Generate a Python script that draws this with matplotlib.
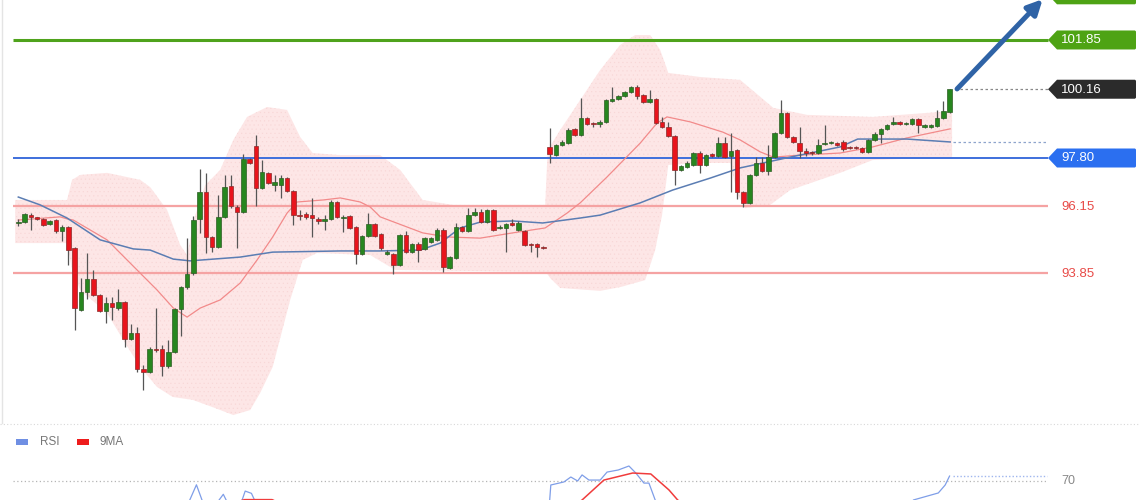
import numpy as np
import matplotlib
matplotlib.use("Agg")
import matplotlib.pyplot as plt
from matplotlib.patches import Polygon, Rectangle
from matplotlib.lines import Line2D
from matplotlib.transforms import IdentityTransform

plt.rcParams['font.family'] = ['Liberation Sans', 'DejaVu Sans']
plt.rcParams['hatch.linewidth'] = 0.3

# ---------------- data ----------------
opens = [95.58, 95.60, 95.84, 95.76, 95.71, 95.54, 95.67, 95.29, 95.43, 94.71,
         92.59, 93.20, 93.65, 93.10, 92.55, 92.82, 92.65, 92.86, 91.59, 91.79,
         90.56, 90.46, 91.25, 91.25, 90.66, 91.14, 92.62, 93.37, 93.85, 95.71,
         96.63, 95.09, 94.75, 95.78, 96.84, 96.12, 95.95, 97.77, 98.21, 96.77,
         97.29, 96.87, 96.87, 97.11, 96.67, 95.86, 95.88, 95.84, 95.71, 95.64,
         95.71, 96.29, 95.74, 95.81, 95.43, 94.51, 95.12, 95.54, 95.19, 94.51,
         94.51, 94.13, 95.16, 94.57, 94.85, 94.68, 94.92, 94.99, 95.33, 94.03,
         94.37, 95.43, 95.29, 95.84, 95.95, 95.60, 96.02, 95.40, 95.40, 95.57,
         95.33, 95.29, 94.85, 94.85, 94.75, 98.18, 97.90, 98.25, 98.31, 98.80,
         98.59, 99.17, 99.00, 98.97, 99.04, 99.76, 99.82, 99.93, 100.06, 100.24,
         99.96, 99.72, 99.82, 99.04, 98.86, 98.55, 97.39, 97.49, 97.56, 97.97,
         97.56, 97.94, 97.87, 98.31, 97.87, 98.07, 96.63, 96.26, 97.22, 97.63,
         97.35, 97.83, 98.66, 99.34, 98.52, 98.31, 98.04, 98.01, 97.97, 98.28,
         98.31, 98.31, 98.35, 98.18, 98.18, 98.14, 98.01, 98.42, 98.62, 98.80,
         98.97, 99.04, 98.97, 98.97, 99.14, 98.86, 98.86, 98.90, 99.17, 99.38]
highs = [95.70, 95.91, 95.91, 95.78, 95.74, 95.67, 95.70, 95.50, 95.46, 94.75,
         93.68, 94.54, 93.96, 93.13, 93.03, 93.03, 93.30, 92.90, 92.10, 92.00,
         90.70, 91.30, 92.65, 91.38, 91.55, 92.65, 93.40, 95.05, 95.80, 97.42,
         97.29, 95.12, 96.53, 97.22, 97.22, 96.20, 97.94, 97.80, 98.59, 97.73,
         97.32, 97.22, 97.22, 97.15, 96.70, 96.02, 95.95, 96.43, 95.78, 95.84,
         96.36, 96.32, 95.84, 95.84, 95.46, 95.16, 95.91, 95.57, 95.23, 94.64,
         94.54, 95.19, 95.29, 94.88, 94.92, 95.09, 95.09, 95.40, 95.40, 94.44,
         95.57, 95.46, 96.08, 96.08, 96.05, 96.05, 96.05, 95.50, 95.57, 95.71,
         95.64, 95.33, 94.88, 94.88, 94.78, 98.83, 98.28, 98.42, 98.83, 98.83,
         99.86, 99.21, 99.04, 99.10, 99.82, 100.24, 99.96, 100.10, 100.27, 100.31,
         99.99, 100.13, 99.86, 99.21, 99.04, 98.59, 97.56, 97.70, 98.01, 98.04,
         97.94, 97.97, 98.52, 98.52, 98.66, 98.11, 96.67, 97.25, 97.83, 97.83,
         98.25, 98.69, 99.79, 99.38, 98.55, 98.86, 98.14, 98.04, 98.45, 98.93,
         98.38, 98.35, 98.42, 98.21, 98.21, 98.18, 98.45, 98.69, 98.83, 98.97,
         99.21, 99.07, 99.04, 99.17, 99.17, 98.97, 98.97, 99.45, 99.76, 100.18]
lows = [95.48, 95.57, 95.33, 95.68, 95.47, 95.50, 95.23, 94.95, 94.13, 91.90,
        92.55, 92.96, 93.05, 92.50, 92.14, 92.24, 92.60, 91.31, 91.55, 90.46,
        89.84, 90.42, 91.15, 90.32, 90.60, 91.10, 91.69, 93.30, 93.80, 95.23,
        94.54, 94.57, 94.70, 95.75, 96.10, 94.71, 95.90, 97.58, 96.15, 96.72,
        96.90, 96.67, 96.43, 96.62, 95.50, 95.67, 95.72, 95.09, 95.54, 95.33,
        95.67, 95.74, 95.26, 95.36, 94.16, 94.47, 95.09, 95.09, 94.64, 94.47,
        93.82, 94.10, 94.54, 94.54, 94.23, 94.64, 94.88, 94.95, 93.89, 93.99,
        94.33, 95.26, 95.26, 95.81, 95.57, 95.57, 95.29, 95.36, 94.57, 95.46,
        95.29, 94.78, 94.57, 94.40, 94.68, 97.63, 97.87, 98.21, 98.28, 98.55,
        98.55, 98.93, 98.86, 98.86, 99.00, 99.72, 99.79, 99.89, 100.03, 99.82,
        99.69, 99.69, 98.97, 98.83, 98.52, 96.87, 97.35, 97.46, 97.53, 97.29,
        97.53, 97.83, 97.83, 97.80, 96.63, 96.39, 96.12, 96.22, 97.18, 97.32,
        97.22, 97.80, 98.62, 98.49, 98.31, 97.80, 97.87, 97.90, 97.94, 98.25,
        98.28, 98.21, 98.04, 98.11, 98.11, 97.97, 97.97, 98.38, 98.31, 98.76,
        98.93, 98.93, 98.93, 98.93, 98.66, 98.83, 98.83, 98.86, 99.14, 99.34]
closes = [95.62, 95.88, 95.78, 95.72, 95.50, 95.64, 95.29, 95.43, 94.64, 92.65,
          93.20, 93.65, 93.10, 92.55, 92.82, 92.69, 92.86, 91.59, 91.79, 90.56,
          90.46, 91.25, 91.20, 90.66, 91.14, 92.62, 93.37, 93.82, 95.67, 96.63,
          95.09, 94.75, 95.78, 96.80, 96.15, 95.95, 97.77, 97.63, 96.77, 97.32,
          96.94, 96.98, 97.11, 96.67, 95.84, 95.82, 95.78, 95.74, 95.64, 95.71,
          96.29, 95.78, 95.78, 95.40, 94.51, 95.12, 95.54, 95.12, 94.71, 94.57,
          94.13, 95.16, 94.57, 94.85, 94.64, 95.05, 95.05, 95.33, 94.06, 94.40,
          95.43, 95.29, 95.84, 95.95, 95.60, 96.02, 95.33, 95.43, 95.54, 95.50,
          95.57, 94.81, 94.81, 94.75, 94.71, 97.94, 98.25, 98.35, 98.76, 98.59,
          99.17, 98.97, 98.97, 99.04, 99.79, 99.82, 99.93, 100.06, 100.24, 99.93,
          99.72, 99.82, 99.00, 98.86, 98.55, 97.39, 97.53, 97.63, 97.97, 97.56,
          97.90, 97.87, 98.31, 97.83, 98.04, 96.63, 96.26, 97.22, 97.63, 97.35,
          97.83, 98.66, 99.34, 98.52, 98.35, 98.04, 97.97, 97.97, 98.25, 98.31,
          98.35, 98.25, 98.11, 98.14, 98.14, 98.01, 98.42, 98.62, 98.80, 98.93,
          99.04, 98.97, 99.00, 99.14, 98.93, 98.93, 98.93, 99.17, 99.41, 100.16]

# Bollinger band edges, read at chosen candle positions
upper_idx = [-0.5, 7.8, 8.6, 9.9, 14.2, 19.5, 21.1, 23.8, 25.9, 27.0, 28.3, 29.9, 32.3,
             34.4, 36.6, 39.8, 43.0, 45.1, 47.1, 51.5, 57.9, 61.1, 64.7, 69.5, 84.3,
             84.7, 86.7, 89.9, 93.1, 96.3, 98.7, 101.1, 102.7, 104.0, 109.1, 115.5,
             120.8, 126.2, 136.7, 147.5, 149.4]
upper_val = [96.36, 96.36, 97.05, 97.22, 97.29, 97.05, 96.80, 96.02, 94.81, 94.47, 95.84,
             96.87, 97.39, 98.42, 99.21, 99.55, 99.45, 98.52, 97.97, 97.90, 97.90, 97.39,
             96.36, 96.19, 96.19, 98.07, 98.76, 99.79, 100.82, 101.68, 102.02, 102.02,
             101.51, 100.72, 100.58, 100.48, 99.52, 99.28, 99.21, 99.38, 99.38]
lower_idx = [-0.5, 7.8, 8.6, 9.9, 14.2, 16.8, 19.5, 22.2, 24.7, 27.9, 31.1, 34.4, 37.1,
             38.7, 40.7, 43.5, 45.5, 47.8, 56.3, 60.3, 83.5, 84.4, 85.1, 86.7, 93.1,
             96.3, 100.3, 101.9, 103.0, 104.0, 109.1, 113.9, 115.1, 116.3, 120.3,
             123.5, 131.5, 136.7, 149.4]
lower_val = [94.88, 94.88, 93.96, 93.27, 92.48, 91.55, 90.63, 89.94, 89.60, 89.50, 89.25,
             88.98, 89.15, 89.74, 90.63, 92.93, 94.30, 94.54, 94.47, 93.96, 93.89, 93.89,
             93.68, 93.34, 93.24, 93.37, 93.61, 94.64, 95.84, 97.56, 97.63, 97.63, 96.53,
             96.08, 96.19, 96.70, 97.29, 97.73, 97.83]

# Band middle line (red) and slow moving average (blue)
mid_idx = [0.0, 6.7, 7.8, 8.8, 14.2, 19.5, 22.2, 24.8, 27.0, 29.1, 32.3, 35.5, 38.2,
           40.7, 43.0, 44.6, 48.8, 51.5, 54.7, 56.3, 57.9, 64.7, 68.6, 73.9, 79.1,
           84.3, 87.8, 89.9, 94.2, 99.5, 102.2, 103.8, 107.5, 112.7, 115.5, 118.7,
           120.8, 125.1, 131.5, 136.7, 142.2, 149.1]
mid_val = [95.67, 95.78, 95.71, 95.67, 94.99, 93.85, 93.27, 92.65, 92.34, 92.65, 92.93,
           93.51, 94.30, 95.09, 95.91, 96.29, 96.36, 96.43, 96.29, 96.12, 95.78, 95.23,
           95.09, 95.05, 95.23, 95.40, 95.91, 96.26, 97.15, 98.31, 99.00, 99.21, 99.04,
           98.69, 98.42, 98.01, 97.83, 97.90, 97.97, 98.18, 98.49, 98.80]
slow_idx = [0.0, 3.5, 7.8, 13.1, 18.4, 21.1, 24.8, 27.5, 35.5, 40.7, 51.5, 57.9, 64.3,
            67.5, 70.7, 73.9, 79.1, 83.9, 89.9, 93.1, 99.5, 104.7, 110.7, 115.5, 123.5,
            131.5, 134.3, 142.2, 149.1]
slow_val = [96.46, 96.19, 95.74, 94.99, 94.68, 94.64, 94.33, 94.27, 94.40, 94.57, 94.61,
            94.61, 94.64, 94.88, 95.40, 95.60, 95.64, 95.57, 95.74, 95.84, 96.26, 96.70,
            97.11, 97.46, 97.83, 98.18, 98.45, 98.45, 98.35]

# Key levels (the top one is cut off by the picture's edge)
levels = [103.40, 101.85, 97.80, 96.15, 93.85]
level_labels = ["103.40", "101.85", "97.80", "96.15", "93.85"]
last_price = 100.16
last_label = "100.16"

# RSI pane (only the upper part is visible)
rsi_idx = [0, 26, 27.5, 28.5, 29.5, 31, 32.8, 34, 35.5, 36.3, 37.3, 38.5, 45, 60, 84,
           85.0, 85.2, 87.3, 88.4, 89.5, 90.2, 91.3, 93.1, 94.2, 96.0, 97.7, 98.8,
           100.1, 100.9, 101.9, 104, 120, 143, 143.2, 147.2, 148.3, 149]
rsi_val = [45, 50, 60.5, 68, 59, 55, 63, 55, 57, 64.7, 63.5, 55, 48, 45, 48,
           59, 67.9, 69.5, 72.1, 70, 73.2, 70.5, 70.5, 74.7, 75.8, 77.9, 74.2,
           68.9, 68.9, 60, 45, 50, 55, 60, 63.7, 67.9, 72.6]
ma9_idx = [0, 28, 36.2, 40.6, 46, 85, 90.2, 93.7, 98.3, 101.2, 104.1, 105.5, 110, 149]
ma9_val = [45, 52, 60.2, 60.2, 52, 48, 60, 70.5, 74.2, 73.7, 65.3, 60, 50, 58]
rsi_level = 70

# ---------------- figure ----------------
W, H = 1140, 500
fig = plt.figure(figsize=(W / 100, H / 100), dpi=100)
fig.patch.set_facecolor("white")

X0, X1 = -2.93, 179.47
ax = fig.add_axes([0, 77 / H, 1, 423 / H])
ax.set_xlim(X0, X1)
ax.set_ylim(88.706, 103.222)
ax.axis("off")

idx = np.arange(len(opens))
o = np.array(opens); c = np.array(closes); h = np.array(highs); l = np.array(lows)

# Bollinger fill
poly_x = np.r_[upper_idx, lower_idx[::-1]]
poly_y = np.r_[upper_val, lower_val[::-1]]
ax.fill(poly_x, poly_y, facecolor="#fde6e6", edgecolor="#f8d6d6", hatch="....",
        linewidth=0, zorder=1)

# level lines
line_end = 164.8
line_start = -0.85
ax.hlines(levels[1], line_start, line_end, color="#4fa31c", lw=2.2, zorder=2)
ax.hlines(levels[2], line_start, line_end, color="#3e6fdc", lw=1.4, zorder=2)
ax.hlines(levels[3], line_start, line_end, color="#f5a3a3", lw=1.6, zorder=2)
ax.hlines(levels[4], line_start, line_end, color="#f5a3a3", lw=1.6, zorder=2)

# moving averages
ax.plot(mid_idx, mid_val, color="#f28a8a", lw=0.9, zorder=3)
ax.plot(slow_idx, slow_val, color="#5b7db3", lw=1.1, zorder=3)

# candles
up = c >= o
ax.vlines(idx, l, h, color="#555555", lw=0.9, zorder=4)
body_bottom = np.minimum(o, c)
body_h = np.maximum(np.abs(c - o), 0.03)
ax.bar(idx[up], body_h[up], bottom=body_bottom[up], width=0.72,
       color="#27861f", edgecolor="#2d5d24", linewidth=0.5, zorder=5)
ax.bar(idx[~up], body_h[~up], bottom=body_bottom[~up], width=0.72,
       color="#e8141c", edgecolor="#8a2a2a", linewidth=0.5, zorder=5)

# dotted extension lines
ax.hlines(last_price, 149.9, line_end, color="#888888", lw=0.9, ls=(0, (2, 2)), zorder=3)
ax.hlines(slow_val[-1], 149.6, 164.5, color="#8ea4cc", lw=0.9, ls=(0, (2, 2)), zorder=3)

# arrow
ax.annotate("", xy=(163.9, 103.25), xytext=(150.2, 100.17),
            arrowprops=dict(arrowstyle="-|>", lw=3.6, color="#2f63a6",
                            mutation_scale=22, shrinkA=0, shrinkB=0),
            annotation_clip=False, zorder=6)

# price tags
fig.canvas.draw()
ident = IdentityTransform()


def ydisp(p):
    return ax.transData.transform((0, p))[1]


def tag(p, color, text=None):
    y = ydisp(p)
    pts = [(1048, y), (1057, y + 9.5), (1135, y + 9.5), (1136, y + 8.5),
           (1136, y - 8.5), (1135, y - 9.5), (1057, y - 9.5)]
    fig.add_artist(Polygon(pts, closed=True, facecolor=color, edgecolor="none",
                           transform=ident))
    if text:
        fig.text(1061, y - 0.5, text, transform=ident, color="white", fontsize=9.5,
                 va="center", ha="left")


tag(levels[0], "#4ea314")          # only its lower edge shows in the picture
tag(levels[1], "#4ea314", level_labels[1])
tag(last_price, "#2b2b2b", last_label)
tag(levels[2], "#2b6ff0", level_labels[2])
for lv, lb in zip(levels[3:], level_labels[3:]):
    fig.text(1061, ydisp(lv) - 0.5, lb, transform=ident, color="#e84a47",
             fontsize=9.5, va="center", ha="left")

# left edge and pane separator
fig.add_artist(Line2D([1.5, 1.5], [77, 500], transform=ident, color="#e4e4e4", lw=1))
fig.add_artist(Line2D([0, 1140], [76.5, 76.5], transform=ident, color="#d8d8d8",
                      lw=0.8, ls=(0, (1, 2))))

# ---------------- RSI pane ----------------
rax = fig.add_axes([0, (H - 614) / H, 1, 190 / H])
rax.set_xlim(X0, X1)
rax.set_ylim(0, 100)
rax.axis("off")
rax.hlines(rsi_level, line_start, line_end, color="#b5b5b5", lw=0.9, ls=(0, (1, 2)))
rax.plot(rsi_idx, rsi_val, color="#7f9ee8", lw=0.9)
rax.plot(ma9_idx, ma9_val, color="#f03c3c", lw=1.1)
rax.hlines(rsi_val[-1], 149.5, 164.6, color="#9fb6ee", lw=1.0, ls=(0, (1, 1.5)))
ry = rax.transData.transform((0, rsi_level))[1]
fig.text(1061, ry, "70", transform=ident, color="#888888", fontsize=9,
         va="center", ha="left")

# legend
fig.add_artist(Rectangle((16, H - 445), 12, 6, transform=ident, facecolor="#6f8fe3",
                         edgecolor="none"))
fig.text(40, H - 442, "RSI", transform=ident, color="#777777", fontsize=8.5, va="center")
fig.add_artist(Rectangle((77, H - 445), 12, 6, transform=ident, facecolor="#ee1c1c",
                         edgecolor="none"))
fig.text(100, H - 442, "9MA", transform=ident, color="#777777", fontsize=8.5, va="center")

fig.savefig("out.png", dpi=100)
